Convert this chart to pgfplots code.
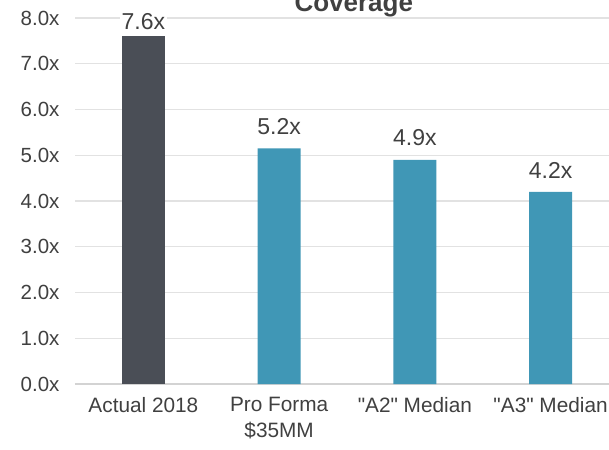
\documentclass[border=0pt]{standalone}
\usepackage{pgfplots}
\pgfplotsset{compat=1.18}
\usepackage{fontspec}
\setmainfont{Liberation Sans}
\definecolor{darkbar}{RGB}{74,78,86}
\definecolor{tealbar}{RGB}{64,151,182}
\definecolor{txt}{RGB}{64,64,64}
\definecolor{gridc}{RGB}{226,226,226}
\begin{document}
\begin{tikzpicture}[x=1pt,y=1pt]
\clip (-75,-65) rectangle (534,384);
\begin{axis}[
  at={(0,0)}, anchor=south west,
  scale only axis, width=544pt, height=366pt,
  xmin=-0.504, xmax=3.504, ymin=0, ymax=8,
  axis line style={draw=none},
  ytick={0,1,...,8},
  yticklabel={\pgfmathprintnumber[fixed,fixed zerofill,precision=1]{\tick}x},
  /pgf/number format/assume math mode=true,
  ymajorgrids, grid style={gridc, line width=1.3pt},
  major tick length=0pt,
  xtick={0,1,2,3},
  xticklabels={Actual 2018, Pro Forma\\\$35MM, \textquotedbl A2\textquotedbl\ Median, \textquotedbl A3\textquotedbl\ Median},
  xticklabel style={align=center, font=\fontsize{20.8}{26}\selectfont, text=txt, yshift=-10pt},
  yticklabel style={font=\fontsize{20.5}{24}\selectfont, text=txt, xshift=-12pt},
  clip=false,
  ybar, bar width=43pt, bar shift=0pt,
  nodes near coords, point meta=explicit symbolic,
  nodes near coords style={font=\fontsize{23}{26}\selectfont, text=txt, fill=white, inner sep=1.5pt, anchor=south, yshift=12pt},
]
\draw[gridc!85!gray, line width=1.6pt] (axis cs:-0.504,0) -- (axis cs:3.504,0);
\addplot[fill=darkbar, draw=none, nodes near coords style={yshift=-7pt}] coordinates {(0,7.6) [7.6x]};
\addplot[fill=tealbar, draw=none] coordinates {(1,5.15) [5.2x] (2,4.9) [4.9x] (3,4.2) [4.2x]};
\node[font=\bfseries\fontsize{26}{30}\selectfont, text=txt, anchor=base] at (axis cs:1.55,8.15) {Coverage};
\end{axis}
\end{tikzpicture}
\end{document}
